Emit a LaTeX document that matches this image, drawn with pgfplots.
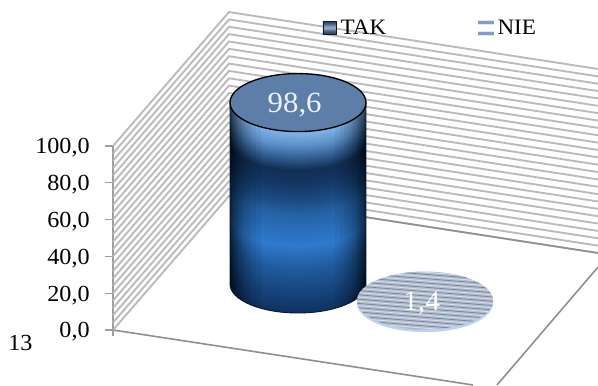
\documentclass[border=0pt]{standalone}
\usepackage{fontspec}
\setmainfont[FakeStretch=1.05]{Liberation Serif}
\usepackage{pgfplots}
\usepackage{pgfplotstable}
\pgfplotsset{compat=1.18}

\definecolor{wallgrid}{HTML}{BABABA}
\definecolor{floorline}{HTML}{8F8F8F}
\definecolor{captop}{HTML}{5C7EA9}
\definecolor{rimdark}{HTML}{0A1A30}
\definecolor{diskbase}{HTML}{B4BBC7}
\definecolor{diskblue}{HTML}{6385B2}
\definecolor{diskpale}{HTML}{D8DDE5}
\definecolor{diskrim}{HTML}{BCD2EE}
\definecolor{labelwhite}{HTML}{EEF2F8}

% Elliptical cross-sections of the cylinders
\pgfdeclareplotmark{cylsec}{%
  \pgfpathellipse{\pgfpointorigin}{\pgfqpoint{51pt}{0pt}}{\pgfqpoint{0pt}{21.75pt}}%
  \pgfusepathqfill}
\pgfdeclareplotmark{cylcap}{%
  \pgfpathellipse{\pgfpointorigin}{\pgfqpoint{51pt}{0pt}}{\pgfqpoint{0pt}{21.75pt}}%
  \pgfusepathqfillstroke}

\pgfdeclareverticalshading{legtak}{100bp}{%
  color(0bp)=(captop!60!black); color(35bp)=(captop!60!black); color(50bp)=(captop!60!white);
  color(62bp)=(captop); color(70bp)=(captop!50!black); color(80bp)=(captop); color(100bp)=(captop!70!white)}

% x: position along the floor, base: depth of the base on the floor, value: percentage
\pgfplotstableread{
x   base  value
298 25.0  98.6
}\tak
\pgfplotstableread{
x   base  value
425 14.6  1.4
}\nie

\begin{document}
\begin{tikzpicture}
\begin{axis}[
  scale only axis, width=363.75pt, height=138pt,
  xmin=113, xmax=598, ymin=0, ymax=100,
  clip=false, clip mode=individual,
  axis x line=none, axis y line=left,
  y axis line style={-, color=wallgrid!85!black, line width=1pt},
  ytick={0,20,40,60,80,100},
  tick align=outside, major tick length=6pt,
  tick style={color=wallgrid!85!black, line width=1pt},
  yticklabel style={font=\fontsize{17.25}{20}\selectfont, xshift=-8pt, yshift=-1.5pt,
    /pgf/number format/.cd, fixed, fixed zerofill, precision=1, use comma, assume math mode=true},
  colormap={cylinder}{
    rgb255(25pt)=(15,51,96);
    rgb255(32pt)=(20,63,116);
    rgb255(48pt)=(33,90,156);
    rgb255(61pt)=(47,122,206);
    rgb255(78pt)=(37,98,165);
    rgb255(86pt)=(27,74,128);
    rgb255(95pt)=(20,54,99);
    rgb255(102pt)=(18,47,85);
    rgb255(108pt)=(47,90,140);
    rgb255(116pt)=(95,148,204);
    rgb255(124pt)=(138,184,238)},
  point meta min=25, point meta max=124,
  legend columns=2,
  legend cell align=left,
  legend style={at={(0.4315,1.642)}, anchor=west, draw=none, fill=none,
    font=\fontsize{16.5}{18}\selectfont, inner sep=0pt,
    /tikz/every even column/.append style={column sep=67pt}},
]
% Coordinates of the page corners
\coordinate (pageLL) at (axis cs:0,-29.89);
\coordinate (pageUR) at (axis cs:598,179.35);

% Wall grid, every 4 units
\pgfplotsinvokeforeach{0,4,...,100}{
  \draw[wallgrid, line width=1.4pt] (axis cs:113,#1) -- (axis cs:229,{#1+72.8}) -- (axis cs:598,{#1+41.85});
}
% Floor edges
\draw[floorline, line width=1.2pt] (axis cs:113,0) -- (axis cs:473,-29.89);
\draw[floorline, line width=1.2pt] (axis cs:497,-29.89) -- (axis cs:598,34.2);
\draw[floorline, line width=1.2pt] (axis cs:229,72.8) -- (axis cs:598,41.85);
\draw[wallgrid!85!black, line width=1pt] (axis cs:113,0) -- (axis cs:113,-3);

% Legend entries
\addlegendimage{legend image code/.code={
  \path[shading=legtak, draw=rimdark, line width=.6pt] (0pt,-5pt) rectangle (10pt,5pt);}}
\addlegendentry{\hspace{1pt}TAK}
\addlegendimage{legend image code/.code={
  \fill[diskrim!50!white] (0pt,-5.5pt) rectangle (11pt,-2.5pt);
  \fill[diskrim!50!white] (0pt,2.5pt) rectangle (11pt,5.5pt);
  \fill[diskblue!80!white] (0pt,-4.8pt) rectangle (11pt,-3.6pt);
  \fill[diskblue!80!white] (0pt,3.6pt) rectangle (11pt,4.8pt);}}
\addlegendentry{\hspace{1pt}NIE}

% TAK: stack of cross-sections coloured by height
\addplot[scatter, only marks, scatter src=y, mark=cylsec, forget plot,
  scatter/use mapped color={draw=none, fill=mapped color}] coordinates {
  (298,25)(298,26)(298,27)(298,28)(298,29)(298,30)(298,31)(298,32)(298,33)(298,34)
  (298,35)(298,36)(298,37)(298,38)(298,39)(298,40)(298,41)(298,42)(298,43)(298,44)
  (298,45)(298,46)(298,47)(298,48)(298,49)(298,50)(298,51)(298,52)(298,53)(298,54)
  (298,55)(298,56)(298,57)(298,58)(298,59)(298,60)(298,61)(298,62)(298,63)(298,64)
  (298,65)(298,66)(298,67)(298,68)(298,69)(298,70)(298,71)(298,72)(298,73)(298,74)
  (298,75)(298,76)(298,77)(298,78)(298,79)(298,80)(298,81)(298,82)(298,83)(298,84)
  (298,85)(298,86)(298,87)(298,88)(298,89)(298,90)(298,91)(298,92)(298,93)(298,94)
  (298,95)(298,96)(298,97)(298,98)(298,99)(298,100)(298,101)(298,102)(298,103)(298,104)
  (298,105)(298,106)(298,107)(298,108)(298,109)(298,110)(298,111)(298,112)(298,113)(298,114)
  (298,115)(298,116)(298,117)(298,118)(298,119)(298,120)(298,121)(298,122)(298,123)
};

% Darkening toward the silhouette edges of the cylinder
\begin{scope}
  \clip (axis cs:230,123.6) -- (axis cs:230,25)
    arc[start angle=180, end angle=360, x radius=51pt, y radius=21.75pt]
    -- (axis cs:366,123.6) -- cycle;
  \pgfplotsinvokeforeach{230.5,231,231.5,232,232.5,233,234,235,236,237,238,239,240.5,242,244,246,249,252,256,261}{
    \fill[black, opacity=.05] (axis cs:230,-30) rectangle (axis cs:#1,170);
  }
  \pgfplotsinvokeforeach{365.5,365,364.5,364,363.5,363,362,361,360,359,358,357,355.5,354,352,350,347,344,340,335}{
    \fill[black, opacity=.05] (axis cs:366,-30) rectangle (axis cs:#1,170);
  }
\end{scope}
\draw[rimdark, line width=.7pt] (axis cs:230,123.6) -- (axis cs:230,25)
    arc[start angle=180, end angle=360, x radius=51pt, y radius=21.75pt]
    -- (axis cs:366,123.6);

% TAK: cap with its value
\addplot[only marks, mark=cylcap, forget plot,
  mark options={fill=captop, draw=black, line width=1pt},
  point meta=\thisrow{value},
  nodes near coords,
  nodes near coords style={anchor=center, text=labelwhite, xshift=-2.5pt, yshift=-2pt,
    font=\fontsize{22}{24}\selectfont,
    /pgf/number format/.cd, fixed, fixed zerofill, precision=1, use comma, assume math mode=true}]
  table[x=x, y expr=\thisrow{base}+\thisrow{value}] {\tak};

% NIE: flat disk, rim first and then the striped top
\addplot[only marks, mark=cylsec, forget plot, mark options={fill=diskrim, draw=none}]
  table[x=x, y=base] {\nie};
\addplot[only marks, mark=cylsec, forget plot, mark options={fill=diskbase, draw=none}]
  table[x=x, y expr=\thisrow{base}+\thisrow{value}] {\nie};
\begin{scope}
  \clip (axis cs:425,16) ellipse[x radius=51pt, y radius=21.75pt];
  \pgfplotsinvokeforeach{0.5,2.84,...,42}{
    \draw[diskblue, line width=.5pt] (axis cs:350,{#1+2.6}) -- (axis cs:500,{#1-3.9});
    \draw[diskpale, line width=.65pt] (axis cs:350,{#1+1.4}) -- (axis cs:500,{#1-5.1});
  }
\end{scope}
\addplot[only marks, mark=none, forget plot,
  point meta=\thisrow{value},
  nodes near coords,
  nodes near coords style={anchor=center, xshift=-2.5pt, yshift=-2.5pt, text=white,
    font=\fontsize{21}{24}\selectfont,
    /pgf/number format/.cd, fixed, fixed zerofill, precision=1, use comma, assume math mode=true}]
  table[x=x, y expr=\thisrow{base}+\thisrow{value}] {\nie};

% Page number beside the axis
\node[anchor=center, font=\fontsize{17.25}{20}\selectfont] at (axis cs:20.5,-7.2) {13};
\end{axis}
\pgfresetboundingbox
\useasboundingbox (pageLL) rectangle (pageUR);
\end{tikzpicture}
\end{document}
